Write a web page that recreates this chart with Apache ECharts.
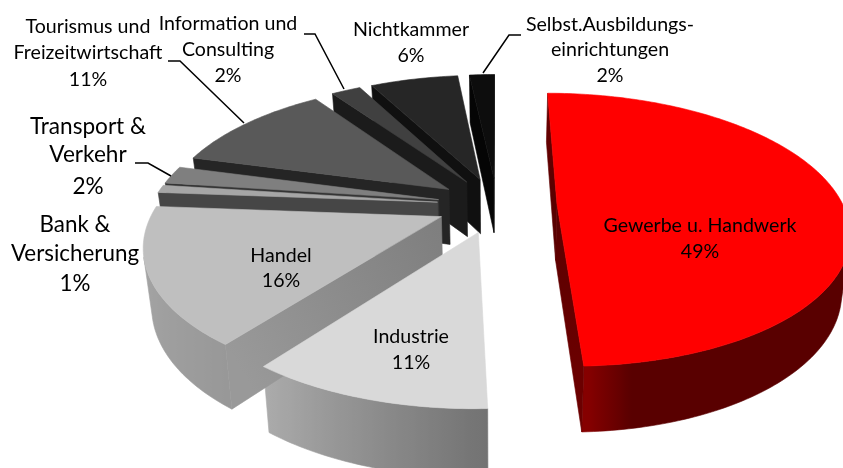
<!DOCTYPE html>
<html>
<head>
<meta charset="utf-8">
<style>
  html, body { margin: 0; padding: 0; background: #fff; }
  #chart { width: 843px; height: 468px; }
</style>
<script src="https://cdn.jsdelivr.net/npm/echarts@6/dist/echarts.min.js"></script>
</head>
<body>
<div id="chart"></div>
<script>
var categories = ['Gewerbe u. Handwerk', 'Industrie', 'Handel', 'Bank & Versicherung', 'Transport & Verkehr',
  'Tourismus und Freizeitwirtschaft', 'Information und Consulting', 'Nichtkammer', 'Selbst.Ausbildungseinrichtungen'];
// shares, the labels show them rounded
var values = [49.4, 10.9, 15.9, 0.9, 2.1, 11.1, 2, 6, 1.7];
var sliceColors = ['#ff0000', '#d9d9d9', '#bfbfbf', '#a6a6a6', '#7f7f7f', '#595959', '#404040', '#262626', '#0d0d0d'];
var labelLines = [
  ['Gewerbe u. Handwerk', '49%'],
  ['Industrie', '11%'],
  ['Handel', '16%'],
  ['Bank &', 'Versicherung', '1%'],
  ['Transport &', 'Verkehr', '2%'],
  ['Tourismus und', 'Freizeitwirtschaft', '11%'],
  ['Information und', 'Consulting', '2%'],
  ['Nichtkammer', '6%'],
  ['Selbst.Ausbildungs-', 'einrichtungen', '2%']
];
// label layout: centre x, y of each line, font size
var labelX = [700, 411, 281, 75, 88, 88, 228, 411, 610];
var labelY = [[226, 252], [337, 363], [256, 281], [225, 254, 284], [127, 155, 187], [27, 53, 80], [24, 50, 76], [30, 56], [25, 50, 76]];
var labelSize = [19.6, 19.6, 19.6, 22.4, 22.6, 19.6, 19.6, 19.6, 19.6];
// leader lines
var leaders = [
  [[135, 163], [148, 163], [171, 176]],
  [[168, 61], [180, 61], [244, 123]],
  [[304, 34], [315, 34], [344, 89]],
  [[521, 35], [509, 35], [483, 73]]
];

// projection of the tilted disc
var cx = 497, cy = 205, rx = 286, ry = 132, persp = 0.185, explode = 0.21, wallH = 56, lean = 0.976;

function project(u, v) {
  var s = 1 / (1 + persp * v);
  return { x: cx + rx * u * s, y: cy - ry * v * s, s: s };
}
function bottomOf(p) {
  return [cx + (p.x - cx) * lean, p.y + wallH * Math.pow(p.s, 0.8)];
}
function arcShade(deg) {
  var t = [[0, 0.35], [170, 0.35], [177, 0.52], [218, 0.8], [274, 0.9], [360, 0.9]];
  for (var i = 1; i < t.length; i++) {
    if (deg <= t[i][0]) {
      return t[i - 1][1] + (t[i][1] - t[i - 1][1]) * (deg - t[i - 1][0]) / (t[i][0] - t[i - 1][0]);
    }
  }
  return 0.9;
}
// cut wall shade at the centre and at the rim
function cutShade(deg) {
  if (deg < 200) { return [0.35, 0.42]; }
  if (deg < 250) { return [0.66, 0.8]; }
  return [0.42, 0.42];
}
function shadeColor(hex, f) {
  var n = parseInt(hex.slice(1), 16);
  return 'rgb(' + Math.round((n >> 16 & 255) * f) + ',' + Math.round((n >> 8 & 255) * f) + ',' + Math.round((n & 255) * f) + ')';
}
function area(q) {
  var a = 0;
  for (var i = 0; i < q.length; i++) {
    var b = q[(i + 1) % q.length];
    a += q[i][0] * b[1] - b[0] * q[i][1];
  }
  return a;
}

var total = values.reduce(function (a, b) { return a + b; }, 0);
var starts = [];
values.reduce(function (acc, v, i) { starts[i] = acc; return acc + v; }, 0);

function polygon(points, fill, z2) {
  return {
    type: 'polygon',
    shape: { points: points },
    style: { fill: fill, stroke: fill, lineWidth: 0.6 },
    z2: z2
  };
}

// outer wall of the front facing part of a rim, shaded left to right
function rimWall(rim, base) {
  var run = [];
  for (var k = 0; k < rim.length - 1; k++) {
    var q = [[rim[k].x, rim[k].y], [rim[k + 1].x, rim[k + 1].y], bottomOf(rim[k + 1]), bottomOf(rim[k])];
    if (area(q) < 0) {
      if (!run.length) { run.push(rim[k]); }
      run.push(rim[k + 1]);
    }
  }
  if (run.length < 2) { return null; }
  var xs = run.map(function (p) { return p.x; });
  var xMin = Math.min.apply(null, xs), xMax = Math.max.apply(null, xs);
  var stops = run.map(function (p) {
    return { offset: xMax > xMin ? (p.x - xMin) / (xMax - xMin) : 0, color: shadeColor(base, arcShade(p.deg)) };
  }).sort(function (a, b) { return a.offset - b.offset; });
  var pts = run.map(function (p) { return [p.x, p.y]; })
    .concat(run.slice().reverse().map(bottomOf));
  return polygon(pts, new echarts.graphic.LinearGradient(xMin, 0, xMax, 0, stops, true), 1);
}

function renderSlice(params, api) {
  var i = api.value(0);
  var a0 = starts[i] / total * 360, a1 = (starts[i] + values[i]) / total * 360;
  var mid = (a0 + a1) / 2 * Math.PI / 180;
  var ox = Math.sin(mid) * explode, oy = Math.cos(mid) * explode;
  var base = sliceColors[i];
  var apex = project(ox, oy);
  var rim = [];
  var n = Math.max(2, Math.ceil(a1 - a0));
  for (var k = 0; k <= n; k++) {
    var deg = a0 + (a1 - a0) * k / n, t = deg * Math.PI / 180;
    var p = project(ox + Math.sin(t), oy + Math.cos(t));
    p.deg = deg;
    rim.push(p);
  }
  var kids = [];
  var wall = rimWall(rim, base);
  if (wall) { kids.push(wall); }
  // the two cut walls
  [[apex, rim[0]], [rim[n], apex]].forEach(function (edge) {
    var a = edge[0], b = edge[1];
    var q = [[a.x, a.y], [b.x, b.y], bottomOf(b), bottomOf(a)];
    if (area(q) >= 0) { return; }
    var outer = a === apex ? b : a;
    var shades = cutShade(outer.deg);
    var fill = new echarts.graphic.LinearGradient(apex.x, apex.y, outer.x, outer.y, [
      { offset: 0, color: shadeColor(base, shades[0]) },
      { offset: 1, color: shadeColor(base, shades[1]) }
    ], true);
    kids.push(polygon(q, fill, 2));
  });
  // top face
  var top = [[apex.x, apex.y]].concat(rim.map(function (p) { return [p.x, p.y]; }));
  kids.push(polygon(top, base, 3));
  return { type: 'group', children: kids };
}

// far slices are painted first
var drawOrder = categories.map(function (c, i) { return i; }).sort(function (a, b) {
  var ma = (starts[a] + values[a] / 2) / total * 2 * Math.PI;
  var mb = (starts[b] + values[b] / 2) / total * 2 * Math.PI;
  return Math.cos(mb) - Math.cos(ma);
});

var labelGraphics = [];
labelLines.forEach(function (lines, i) {
  lines.forEach(function (line, j) {
    labelGraphics.push({
      type: 'text',
      x: labelX[i],
      y: labelY[i][j],
      z: 10,
      style: {
        text: line,
        fill: '#000',
        font: labelSize[i] + 'px Lato',
        textAlign: 'center',
        textVerticalAlign: 'middle'
      }
    });
  });
});
leaders.forEach(function (pts) {
  labelGraphics.push({
    type: 'polyline',
    z: 10,
    shape: { points: pts },
    style: { stroke: '#000', lineWidth: 1.5, fill: 'none' }
  });
});

var myChart = echarts.init(document.getElementById('chart'), null, { renderer: 'canvas' });
var option = {
  animation: false,
  backgroundColor: '#fff',
  graphic: { elements: labelGraphics },
  series: [
    {
      type: 'custom',
      coordinateSystem: 'none',
      renderItem: renderSlice,
      data: drawOrder.map(function (i) { return { name: categories[i], value: [i, values[i]] }; })
    }
  ]
};
myChart.setOption(option);
</script>
</body>
</html>
